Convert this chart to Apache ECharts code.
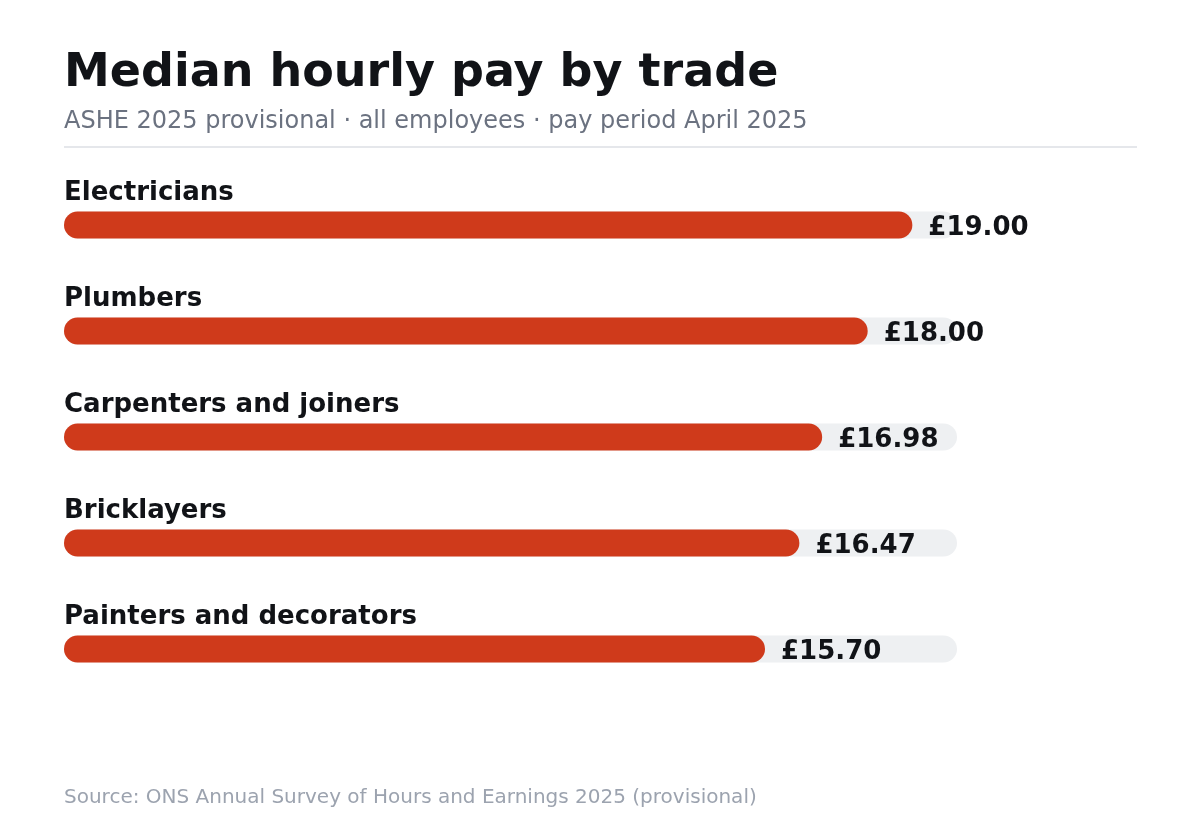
<!DOCTYPE html>
<html>
<head>
<meta charset="utf-8">
<title>Median hourly pay by trade</title>
<script src="https://cdn.jsdelivr.net/npm/echarts@6/dist/echarts.min.js"></script>
<style>
  html, body { margin: 0; padding: 0; background: #ffffff; }
  #chart { width: 1200px; height: 840px; }
</style>
</head>
<body>
<div id="chart"></div>
<script>
// trades, top to bottom
const trades = ['Electricians', 'Plumbers', 'Carpenters and joiners', 'Bricklayers', 'Painters and decorators'];
// median hourly pay, £
const pay = [19.00, 18.00, 16.98, 16.47, 15.70];
// full length of the grey track
const trackMax = [20, 20, 20, 20, 20];

const font = 'DejaVu Sans';

const chart = echarts.init(document.getElementById('chart'), null, { renderer: 'canvas' });

var option = {
  backgroundColor: '#ffffff',
  animation: false,
  title: [{
    text: 'Median hourly pay by trade',
    left: 64,
    top: 51,
    padding: 0,
    textStyle: { fontFamily: font, fontSize: 46, fontWeight: 'bold', color: '#111317' }
  }, {
    text: 'ASHE 2025 provisional · all employees · pay period April 2025',
    left: 64,
    top: 110,
    padding: 0,
    textStyle: { fontFamily: font, fontSize: 24, fontWeight: 'normal', color: '#6b7280' }
  }, {
    text: 'Source: ONS Annual Survey of Hours and Earnings 2025 (provisional)',
    left: 64,
    top: 788,
    padding: 0,
    textStyle: { fontFamily: font, fontSize: 20, fontWeight: 'normal', color: '#9ca3af' }
  }],
  graphic: [{
    type: 'line',
    shape: { x1: 64, y1: 147, x2: 1137, y2: 147 },
    style: { stroke: '#e5e7eb', lineWidth: 2 },
    silent: true
  }],
  grid: { left: 64, right: 243, top: 172, bottom: 138, containLabel: false },
  xAxis: {
    type: 'value',
    min: 0,
    max: 20,
    show: false
  },
  yAxis: {
    type: 'category',
    data: trades,
    inverse: true,
    show: false
  },
  series: [{
    // background track + trade name above it
    type: 'bar',
    data: trackMax,
    barWidth: 27,
    barGap: '-100%',
    silent: true,
    itemStyle: { color: '#eef0f2', borderRadius: 13.5 },
    label: {
      show: true,
      position: [0, -5],
      align: 'left',
      verticalAlign: 'bottom',
      formatter: '{b}',
      fontFamily: font,
      fontSize: 26,
      fontWeight: 'bold',
      color: '#111317'
    },
    z: 1
  }, {
    type: 'bar',
    data: pay,
    barWidth: 27,
    itemStyle: { color: '#cf3a1b', borderRadius: 13.5 },
    label: {
      show: true,
      position: 'right',
      distance: 16,
      offset: [0, 3],
      formatter: function (p) { return '£' + p.value.toFixed(2); },
      fontFamily: font,
      fontSize: 26,
      fontWeight: 'bold',
      color: '#111317'
    },
    z: 2
  }]
};

chart.setOption(option);
</script>
</body>
</html>
